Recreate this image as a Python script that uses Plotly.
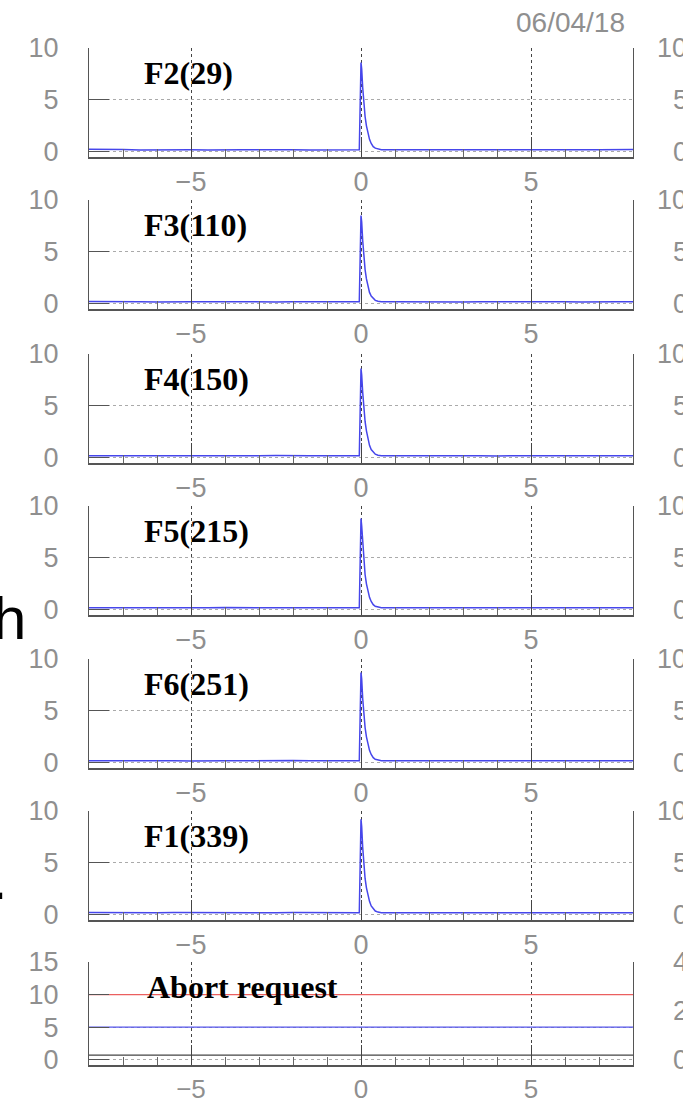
import plotly.graph_objects as go

W, H = 697, 1105

# ---------------- data ----------------
x_time = [-8.0, -7.5, -7.0, -6.5, -6.0, -5.5, -5.0, -4.5, -4.0, -3.5, -3.0, -2.5, -2.0, -1.5, -1.0, -0.5, -0.05,
          0.0, 0.02, 0.05, 0.08, 0.12, 0.16, 0.20, 0.25, 0.30, 0.36, 0.42, 0.50, 0.60,
          1.0, 1.5, 2.0, 2.5, 3.0, 3.5, 4.0, 4.5, 5.0, 5.5, 6.0, 6.5, 7.0, 7.5, 8.0]

f2_vals = [0.25, 0.20, 0.22, 0.18, 0.20, 0.24, 0.20, 0.18, 0.22, 0.20, 0.19, 0.23, 0.20, 0.18, 0.21, 0.20, 0.20,
           8.6, 8.0, 6.2, 4.6, 3.4, 2.5, 1.8, 1.2, 0.8, 0.5, 0.35, 0.25, 0.20,
           0.20, 0.22, 0.18, 0.20, 0.21, 0.19, 0.20, 0.22, 0.20, 0.18, 0.20, 0.21, 0.19, 0.20, 0.22]
f3_vals = [0.22, 0.19, 0.21, 0.20, 0.18, 0.22, 0.20, 0.21, 0.19, 0.20, 0.22, 0.18, 0.20, 0.21, 0.19, 0.20, 0.19,
           8.5, 7.9, 6.1, 4.5, 3.3, 2.4, 1.7, 1.1, 0.75, 0.5, 0.33, 0.24, 0.20,
           0.21, 0.19, 0.20, 0.22, 0.18, 0.20, 0.21, 0.20, 0.19, 0.22, 0.20, 0.18, 0.21, 0.20, 0.19]
f4_vals = [0.20, 0.23, 0.19, 0.21, 0.20, 0.18, 0.22, 0.20, 0.19, 0.21, 0.20, 0.22, 0.18, 0.20, 0.21, 0.19, 0.20,
           8.6, 8.0, 6.3, 4.7, 3.5, 2.6, 1.8, 1.2, 0.8, 0.52, 0.35, 0.25, 0.21,
           0.20, 0.21, 0.19, 0.20, 0.22, 0.20, 0.18, 0.21, 0.20, 0.19, 0.22, 0.20, 0.21, 0.19, 0.20]
f5_vals = [0.21, 0.20, 0.18, 0.22, 0.20, 0.19, 0.21, 0.20, 0.23, 0.19, 0.20, 0.21, 0.19, 0.20, 0.22, 0.20, 0.19,
           8.8, 8.1, 6.3, 4.6, 3.4, 2.5, 1.8, 1.2, 0.8, 0.5, 0.34, 0.25, 0.20,
           0.19, 0.21, 0.20, 0.18, 0.21, 0.20, 0.22, 0.19, 0.20, 0.21, 0.19, 0.20, 0.22, 0.20, 0.21]
f6_vals = [0.20, 0.21, 0.19, 0.20, 0.22, 0.20, 0.18, 0.21, 0.20, 0.19, 0.21, 0.20, 0.22, 0.19, 0.20, 0.21, 0.20,
           8.7, 8.1, 6.2, 4.6, 3.4, 2.5, 1.8, 1.2, 0.8, 0.5, 0.34, 0.25, 0.20,
           0.21, 0.20, 0.19, 0.21, 0.20, 0.22, 0.19, 0.20, 0.21, 0.20, 0.18, 0.21, 0.20, 0.19, 0.21]
f1_vals = [0.22, 0.20, 0.21, 0.19, 0.20, 0.22, 0.21, 0.19, 0.20, 0.21, 0.20, 0.19, 0.22, 0.20, 0.21, 0.20, 0.21,
           9.2, 8.5, 6.5, 4.8, 3.5, 2.6, 1.9, 1.3, 0.85, 0.55, 0.36, 0.26, 0.21,
           0.20, 0.22, 0.20, 0.19, 0.21, 0.20, 0.21, 0.22, 0.19, 0.20, 0.21, 0.20, 0.19, 0.21, 0.20]

panel_labels = ["F2(29)", "F3(110)", "F4(150)", "F5(215)", "F6(251)", "F1(339)"]
panel_series = [f2_vals, f3_vals, f4_vals, f5_vals, f6_vals, f1_vals]

abort_x = [-8, -4, 0, 4, 8]
abort_red = [10, 10, 10, 10, 10]
abort_blue = [5, 5, 5, 5, 5]
abort_black = [0.7, 0.7, 0.7, 0.7, 0.7]
abort_label = "Abort request"

x_ticks = [-5, 0, 5]
y_ticks_main = [0, 5, 10]
y_ticks_abort = [0, 5, 10, 15]
right_tick_text_main = ["10", "5", "0"]
right_tick_text_abort = ["4", "2", "0"]
date_text = "06/04/18"
side_text = ["h", "."]

# ---------------- layout geometry (pixels) ----------------
tops = [48, 200, 354, 506, 659, 811, 962]
heights = [109, 109, 109, 109, 109, 109, 103]
x_dom = [89 / W, 633 / W]

TICK_FONT = dict(family="Liberation Sans", size=27, color="#8f8f8f")
BLUE = "rgb(70,70,235)"

fig = go.Figure()
layout = dict(
    width=W, height=H, margin=dict(l=0, r=0, t=0, b=0, autoexpand=False),
    paper_bgcolor="white", plot_bgcolor="white", showlegend=False,
)
annotations = []

for i in range(7):
    ax = "" if i == 0 else str(i + 1)
    top, h = tops[i], heights[i]
    ydom = [1 - (top + h) / H, 1 - top / H]
    is_abort = (i == 6)
    yr = [-0.8, 15] if is_abort else [-0.5, 10]
    xfont = dict(TICK_FONT, size=26) if is_abort else TICK_FONT
    layout["xaxis" + ax] = dict(
        domain=x_dom, range=[-8, 8], anchor="y" + ax, automargin=False,
        tickvals=x_ticks, ticks="inside", ticklen=20, tickcolor="#444", tickwidth=1,
        showline=True, linecolor="#555", linewidth=1.5, mirror=False,
        showgrid=True, gridcolor="#444", griddash="dot", gridwidth=1,
        zeroline=False, tickfont=xfont, ticklabelstandoff=0,
        minor=dict(dtick=1, tick0=0, ticks="inside", ticklen=8, tickcolor="#666", showgrid=False),
        fixedrange=True,
    )
    layout["yaxis" + ax] = dict(
        domain=ydom, range=yr, anchor="x" + ax, automargin=False,
        tickvals=y_ticks_abort if is_abort else y_ticks_main,
        ticks="inside", ticklen=20, tickcolor="#555", tickwidth=1,
        showline=True, mirror=True, linecolor="#555", linewidth=1.2,
        showgrid=True, gridcolor="#aaa", griddash="dot", gridwidth=1,
        zeroline=False, tickfont=TICK_FONT, ticklabelstandoff=24,
        fixedrange=True,
    )
    if not is_abort:
        fig.add_trace(go.Scatter(x=x_time, y=panel_series[i], mode="lines",
                                 line=dict(color=BLUE, width=1.5),
                                 xaxis="x" + ax, yaxis="y" + ax))
        annotations.append(dict(text="<b>%s</b>" % panel_labels[i], xref="x" + ax, yref="y" + ax,
                                x=-6.45, y=7.6, xanchor="left", yanchor="middle", showarrow=False,
                                font=dict(family="Liberation Serif", size=32, color="black")))
        right_texts = right_tick_text_main
        right_vals = y_ticks_main[::-1]
    else:
        fig.add_trace(go.Scatter(x=abort_x, y=abort_black, mode="lines",
                                 line=dict(color="#444", width=1.3), xaxis="x" + ax, yaxis="y" + ax))
        fig.add_trace(go.Scatter(x=abort_x, y=abort_red, mode="lines",
                                 line=dict(color="rgb(235,95,95)", width=1.2), xaxis="x" + ax, yaxis="y" + ax))
        fig.add_trace(go.Scatter(x=abort_x, y=abort_blue, mode="lines",
                                 line=dict(color="rgb(85,85,235)", width=1.2), xaxis="x" + ax, yaxis="y" + ax))
        annotations.append(dict(text="<b>%s</b>" % abort_label, xref="x" + ax, yref="y" + ax,
                                x=-6.35, y=11.2, xanchor="left", yanchor="middle", showarrow=False,
                                font=dict(family="Liberation Serif", size=32, color="black")))
        right_texts = right_tick_text_abort
        right_vals = [15, 7.5, 0]
    # partially visible tick labels of the neighbouring (cut-off) column
    for t, v in zip(right_texts, right_vals):
        x0 = 656 if len(t) == 2 else 672
        annotations.append(dict(text=t, xref="paper", yref="y" + ax, x=x0 / W, y=v,
                                xanchor="left", yanchor="middle", align="left",
                                width=684 - x0 - 2, borderpad=0, showarrow=False,
                                font=TICK_FONT))

annotations.append(dict(text=date_text, xref="paper", yref="paper", x=627 / W, y=1 - 22 / H,
                        xanchor="right", yanchor="middle", showarrow=False,
                        font=dict(family="Liberation Sans", size=28, color="#8f8f8f")))
annotations.append(dict(text=side_text[0], xref="paper", yref="paper", x=28 / W, y=1 - 583 / H,
                        xanchor="right", yanchor="top", showarrow=False,
                        font=dict(family="Liberation Sans", size=60, color="black")))
annotations.append(dict(text=side_text[1], xref="paper", yref="paper", x=10 / W, y=1 - 843 / H,
                        xanchor="right", yanchor="top", showarrow=False,
                        font=dict(family="Liberation Sans", size=60, color="black")))

layout["annotations"] = annotations
fig.update_layout(**layout)
fig.write_html("out.html", config={"displayModeBar": False},
               post_script="document.body.style.margin='0';")
